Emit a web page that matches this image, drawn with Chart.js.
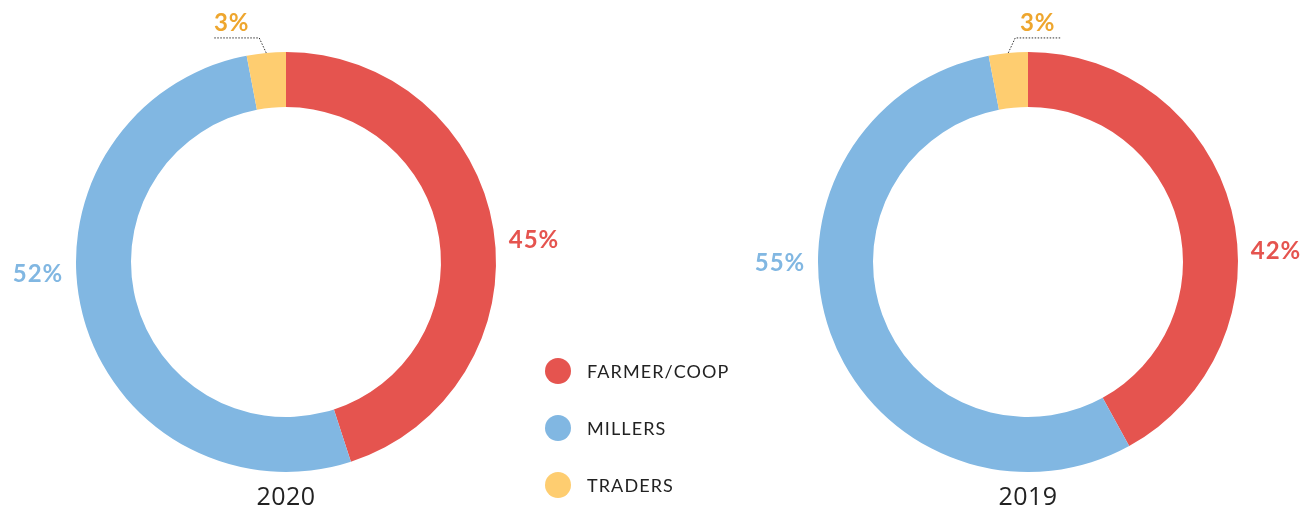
<!DOCTYPE html>
<html><head><meta charset="utf-8">
<script src="https://cdn.jsdelivr.net/npm/chart.js@4/dist/chart.umd.min.js"></script>
<style>
html,body{margin:0;padding:0;background:#fff;width:1316px;height:513px;overflow:hidden;font-family:Lato,"Open Sans",sans-serif;}
canvas{position:absolute;top:0;}
#c1{left:0;} #c2{left:742px;}
#legend{position:absolute;left:545px;top:357px;}
.li{position:relative;height:57px;}
.dot{position:absolute;left:0;top:1px;width:26px;height:26px;border-radius:50%;}
.lt{position:absolute;left:42px;top:3px;font-size:18px;color:#222;letter-spacing:1.1px;white-space:nowrap;}
</style></head><body>
<canvas id="c1" width="572" height="513"></canvas>
<canvas id="c2" width="572" height="513"></canvas>
<div id="legend"></div>
<script>
const categories = ["FARMER/COOP", "MILLERS", "TRADERS"];
const values2020 = [45, 52, 3];
const values2019 = [42, 55, 3];
const years = ["2020", "2019"];
const sliceColors = ["#E5544F", "#81B7E2", "#FECD70"];
const labelColors = ["#E5544F", "#81B7E2", "#EEA62E"];

const labelPlugin = {
  id: 'sliceLabels',
  afterDraw(chart, args, opts) {
    const ctx = chart.ctx;
    const meta = chart.getDatasetMeta(0);
    const ds = chart.data.datasets[0];
    ctx.save();
    meta.data.forEach((arc, i) => {
      const p = arc.getProps(['x','y','startAngle','endAngle','outerRadius'], true);
      const mid = (p.startAngle + p.endAngle) / 2;
      const txt = ds.data[i] + '%';
      ctx.fillStyle = labelColors[i];
      ctx.font = 'bold 24px Lato, sans-serif';
      ctx.letterSpacing = '1px';
      ctx.textAlign = 'center';
      ctx.textBaseline = 'middle';
      if (ds.data[i] < 10) {
        const ax = p.x + Math.cos(mid) * p.outerRadius;
        const ay = p.y + Math.sin(mid) * p.outerRadius;
        const dir = opts.smallDir;
        const ex = ax + dir * 7, ey = ay - 15;
        const hx = ex + dir * 45;
        ctx.strokeStyle = '#333';
        ctx.lineWidth = 1;
        ctx.setLineDash([1.5, 1.5]);
        ctx.beginPath();
        ctx.moveTo(ax, ay); ctx.lineTo(ex, ey); ctx.lineTo(hx, ey);
        ctx.stroke();
        ctx.setLineDash([]);
        ctx.fillText(txt, (ex + hx) / 2 + opts.smallShift, ey - 15);
      } else {
        const side = Math.cos(mid) >= 0 ? 1 : -1;
        const x = p.x + side * (p.outerRadius + 38);
        const y = p.y + opts.yOffsets[i];
        ctx.fillText(txt, x, y);
      }
    });
    const a = meta.data[0];
    ctx.fillStyle = '#222';
    ctx.letterSpacing = '0.5px';
    ctx.font = '25px "Open Sans", sans-serif';
    ctx.textAlign = 'center';
    ctx.textBaseline = 'middle';
    ctx.fillText(opts.caption, a.x, a.y + a.outerRadius + 26);
    ctx.restore();
  }
};

function makeChart(id, values, caption, smallDir, yOffsets, smallShift) {
  return new Chart(document.getElementById(id), {
    type: 'doughnut',
    data: {
      labels: categories,
      datasets: [{ data: values, backgroundColor: sliceColors, borderWidth: 0, hoverOffset: 0 }]
    },
    options: {
      responsive: false,
      animation: false,
      cutout: '73.8%',
      layout: { padding: { left: 76, right: 76, top: 52, bottom: 41 } },
      plugins: {
        legend: { display: false },
        tooltip: { enabled: false },
        sliceLabels: { caption: caption, smallDir: smallDir, yOffsets: yOffsets, smallShift: smallShift }
      }
    },
    plugins: [labelPlugin]
  });
}
makeChart('c1', values2020, years[0], -1, [-22, 12, 0], -5);
makeChart('c2', values2019, years[1], 1, [-11, 1, 0], 0);

const lg = document.getElementById('legend');
categories.forEach((c, i) => {
  const d = document.createElement('div'); d.className = 'li';
  d.innerHTML = '<span class="dot" style="background:' + sliceColors[i] + '"></span><span class="lt">' + c + '</span>';
  lg.appendChild(d);
});
</script>
</body></html>
